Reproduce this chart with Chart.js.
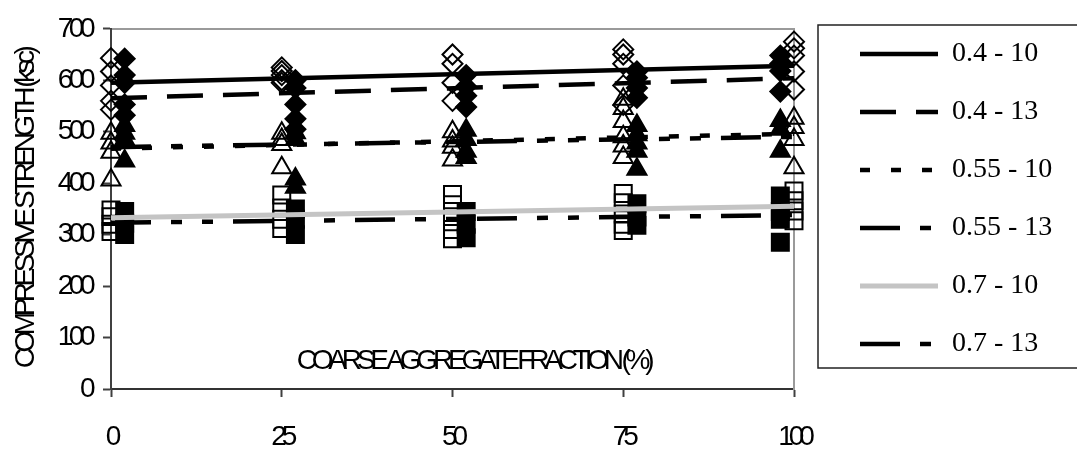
<!DOCTYPE html>
<html>
<head>
<meta charset="utf-8">
<script src="https://cdn.jsdelivr.net/npm/chart.js@4"></script>
<style>
  html, body { margin: 0; padding: 0; background: #fff; }
</style>
</head>
<body>
<canvas id="chart" width="1077" height="459"></canvas>
<script>
// x positions of the marker columns (filled markers are drawn slightly shifted in the original)
const fractions = [0, 25, 50, 75, 100];
const fractionsShifted = [2, 27, 52, 77, 98];
const trendEnds = [0, 100];

const seriesNames = ['0.4 - 10', '0.4 - 13', '0.55 - 10', '0.55 - 13', '0.7 - 10', '0.7 - 13'];

// measured strengths (ksc) per fraction column
const strength04_10 = [[643, 617, 590, 560, 543], [625, 618, 610, 600, 595], [650, 632, 595, 560], [660, 650, 632, 590, 552], [675, 662, 648, 617, 582]];
const strength04_13 = [[642, 610, 595, 553, 532], [600, 585, 553, 525, 505], [610, 588, 570, 548], [617, 605, 585, 566], [648, 632, 618, 578]];
const strength055_10 = [[497, 478, 460, 406], [497, 485, 475, 430], [500, 482, 470, 445], [563, 545, 520, 490, 472, 450], [526, 508, 485, 430]];
const strength055_13 = [[512, 497, 485, 443], [498, 485, 408, 392], [503, 485, 462, 450], [512, 494, 478, 462, 427], [522, 505, 462]];
const strength07_10 = [[348, 335, 320, 306], [377, 352, 330, 312], [378, 358, 335, 310, 292], [380, 362, 340, 320, 308], [385, 366, 346, 327]];
const strength07_13 = [[345, 322, 300], [350, 330, 300], [345, 320, 294], [360, 334, 318], [375, 345, 330, 285]];

// trend line values at 0 % and 100 %
const trend04_10 = [595, 628];
const trend04_13 = [565, 604];
const trend055_10 = [467, 496];
const trend055_13 = [470, 490];
const trend07_10 = [333, 355];
const trend07_13 = [323, 338];

const toPoints = (xs, groups) => xs.flatMap((x, i) => groups[i].map(y => ({ x, y })));
const toLine = ys => trendEnds.map((x, i) => ({ x, y: ys[i] }));

function trend(label, ys, color, width, dash) {
    return {
        label, data: toLine(ys), showLine: true, isTrend: true,
        borderColor: color, backgroundColor: color, borderWidth: width, borderDash: dash,
        pointRadius: 0, pointHoverRadius: 0, clip: false
    };
}

function markers(label, pts, style, radius, filled) {
    return {
        label, data: pts, showLine: false, clip: false,
        pointStyle: style, pointRadius: radius, pointHoverRadius: radius,
        pointBorderColor: '#000', pointBorderWidth: 2,
        pointBackgroundColor: filled ? '#000' : 'rgba(0,0,0,0)'
    };
}

const longDotDot = [40, 20, 11, 20, 11, 20];

const datasets = [
    trend(seriesNames[0], trend04_10, '#000', 4.5, []),
    trend(seriesNames[1], trend04_13, '#000', 4.5, [36, 20]),
    trend(seriesNames[2], trend055_10, '#000', 4.5, [10, 21]),
    trend(seriesNames[3], trend055_13, '#000', 4.5, longDotDot),
    trend(seriesNames[4], trend07_10, '#c4c4c4', 5, []),
    trend(seriesNames[5], trend07_13, '#000', 4.5, longDotDot),
    markers(seriesNames[0], toPoints(fractions, strength04_10), 'rectRot', 10, false),
    markers(seriesNames[1], toPoints(fractionsShifted, strength04_13), 'rectRot', 10, true),
    markers(seriesNames[2], toPoints(fractions, strength055_10), 'triangle', 11, false),
    markers(seriesNames[3], toPoints(fractionsShifted, strength055_13), 'triangle', 11, true),
    markers(seriesNames[4], toPoints(fractions, strength07_10), 'rect', 12, false),
    markers(seriesNames[5], toPoints(fractionsShifted, strength07_13), 'rect', 12, true)
];

const axisFont = { family: '"Liberation Sans", Arial, sans-serif', size: 28 };
const titleFont = { family: '"Liberation Sans", Arial, sans-serif', size: 28 };

// squeeze axis text like the original
function withSpacing(obj, method, spacing) {
    if (obj['_ls_' + method]) return;
    const orig = obj[method];
    obj[method] = function (...args) {
        const ctx = this.ctx;
        const prev = ctx.letterSpacing;
        ctx.letterSpacing = spacing;
        const r = orig.apply(this, args);
        ctx.letterSpacing = prev;
        return r;
    };
    obj['_ls_' + method] = true;
}

const squeezePlugin = {
    id: 'squeeze',
    beforeUpdate(chart) {
        // fixed legend width so the box lines up with the plot
        const lg = chart.legend;
        if (lg && !lg._fixedFit) {
            const fit = lg.fit;
            lg.fit = function () { fit.call(this); this.width = 247; };
            lg._fixedFit = true;
        }
    },
    afterLayout(chart) {
        withSpacing(chart.scales.y, 'drawTitle', '-4.5px');
        withSpacing(chart.scales.y, 'drawLabels', '-4.5px');
        withSpacing(chart.scales.x, 'drawLabels', '-5px');
    }
};

// x-axis caption sits inside the plot in the original
const innerTitlePlugin = {
    id: 'innerTitle',
    afterDatasetsDraw(chart) {
        const { ctx, scales } = chart;
        ctx.save();
        ctx.letterSpacing = '-5.2px';
        ctx.font = '28px "Liberation Sans", Arial, sans-serif';
        ctx.fillStyle = '#000';
        ctx.textAlign = 'center';
        ctx.textBaseline = 'middle';
        ctx.fillText('COARSE AGGREGATE FRACTION (%)', scales.x.getPixelForValue(53), scales.y.getPixelForValue(54));
        ctx.restore();
    }
};

const legendBoxPlugin = {
    id: 'legendBox',
    afterDraw(chart) {
        const lg = chart.legend;
        const hb = lg.legendHitBoxes;
        if (!hb || !hb.length) return;
        const top = hb[0].top - 15;
        const last = hb[hb.length - 1];
        const bottom = last.top + last.height + 10;
        const ctx = chart.ctx;
        ctx.save();
        ctx.strokeStyle = '#222';
        ctx.lineWidth = 1.5;
        ctx.strokeRect(lg.left - 12, top, chart.width, bottom - top);
        ctx.restore();
    }
};

new Chart(document.getElementById('chart'), {
    type: 'scatter',
    data: { datasets },
    options: {
        responsive: false,
        animation: false,
        layout: { padding: { top: 10, right: 0, bottom: 0, left: 0 } },
        scales: {
            x: {
                type: 'linear', min: 0, max: 100,
                ticks: { stepSize: 25, padding: 23, color: '#000', font: axisFont },
                grid: { drawOnChartArea: false, tickLength: 8, tickColor: '#404040', tickWidth: 2 },
                border: { color: '#333', width: 2 },
                afterFit: s => { s.height = 70; }
            },
            x2: {
                type: 'linear', position: 'top', min: 0, max: 100, display: true,
                ticks: { display: false },
                grid: { display: false },
                border: { color: '#9a9a9a', width: 2 },
                afterFit: s => { s.height = 16; }
            },
            y: {
                min: 0, max: 700,
                ticks: { stepSize: 100, padding: 12, color: '#000', font: axisFont },
                grid: { drawOnChartArea: false, tickLength: 8, tickColor: '#404040', tickWidth: 2 },
                border: { color: '#404040', width: 2 },
                title: {
                    display: true, text: 'COMPRESSIVE STRENGTH (ksc)', color: '#000',
                    font: titleFont, padding: { top: 9, bottom: 0 }
                },
                afterFit: s => { s.width = 111; }
            },
            y2: {
                type: 'linear', position: 'right', min: 0, max: 700, display: true,
                ticks: { display: false },
                grid: { display: false },
                border: { color: '#9a9a9a', width: 2 },
                afterFit: s => { s.width = 36; }
            }
        },
        plugins: {
            tooltip: { enabled: false },
            legend: {
                position: 'right',
                align: 'start',
                maxWidth: 320,
                labels: {
                    usePointStyle: true,
                    pointStyleWidth: 78,
                    padding: 30,
                    color: '#000',
                    font: { family: '"Liberation Serif", "Times New Roman", serif', size: 28 },
                    generateLabels: chart => chart.data.datasets
                        .map((ds, i) => ({
                            text: ds.label,
                            fillStyle: ds.borderColor,
                            strokeStyle: ds.borderColor,
                            lineWidth: ds.borderWidth,
                            lineDash: ds.borderDash,
                            lineCap: 'butt',
                            pointStyle: 'line',
                            hidden: false,
                            datasetIndex: i,
                            isTrend: ds.isTrend
                        }))
                        .filter(item => item.isTrend)
                }
            }
        }
    },
    plugins: [squeezePlugin, innerTitlePlugin, legendBoxPlugin]
});
</script>
</body>
</html>
